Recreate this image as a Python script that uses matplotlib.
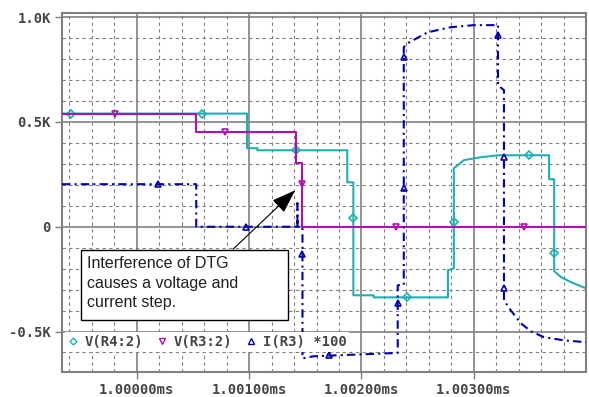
import matplotlib
matplotlib.use("Agg")
import matplotlib.pyplot as plt
from matplotlib.lines import Line2D
from matplotlib.patches import Rectangle
from matplotlib.ticker import MultipleLocator

# time in microseconds after 1 ms, values in kV (I(R3) scaled *100)
cyan_t = [-0.666, 0.981, 0.981, 1.073, 1.073, 1.874, 1.874, 1.928, 1.928, 2.109, 2.109,
          2.770, 2.770, 2.823, 2.823, 2.913, 3.064, 3.216, 3.671, 3.671, 3.716, 3.716,
          3.779, 3.868, 4.0]
cyan_v = [0.540, 0.540, 0.375, 0.375, 0.365, 0.365, 0.212, 0.212, -0.327, -0.327, -0.337,
          -0.337, -0.208, -0.198, 0.279, 0.318, 0.332, 0.341, 0.341, 0.227, 0.227, -0.212,
          -0.241, -0.265, -0.294]
cyan_mt = [-0.588, 0.582, 1.413, 1.928, 2.404, 2.823, 3.493, 3.716]
cyan_mv = [0.540, 0.540, 0.365, 0.041, -0.337, 0.021, 0.341, -0.126]

mag_t = [-0.666, 0.529, 0.529, 1.421, 1.421, 1.475, 1.475, 4.0]
mag_v = [0.540, 0.540, 0.451, 0.451, 0.303, 0.303, 0.0, 0.0]
mag_mt = [-0.195, 0.789, 1.475, 2.305, 3.448]
mag_mv = [0.540, 0.451, 0.203, 0.0, 0.0]

blue_t = [-0.666, 0.529, 0.529, 1.430, 1.430, 1.430, 1.475, 1.475, 1.573, 2.323, 2.323,
          2.377, 2.377, 2.413, 2.590, 2.796, 3.000, 3.216, 3.216, 3.269, 3.269, 3.330,
          3.420, 3.510, 3.625, 3.804, 4.0]
blue_v = [0.203, 0.203, 0.0, 0.0, 0.112, 0.0, 0.0, -0.628, -0.618, -0.602, -0.279,
          -0.279, 0.857, 0.876, 0.928, 0.952, 0.962, 0.962, 0.675, 0.652, -0.351, -0.399,
          -0.461, -0.499, -0.527, -0.542, -0.551]
blue_mt = [0.189, 0.975, 1.475, 1.707, 2.323, 2.377, 2.377, 3.216, 3.269, 3.269]
blue_mv = [0.203, 0.0, -0.131, -0.611, -0.365, 0.184, 0.809, 0.914, 0.332, -0.294]

series_names = ["V(R4:2)", "V(R3:2)", "I(R3) *100"]
x_ticks = [0, 1, 2, 3]
x_labels = ["1.00000ms", "1.00100ms", "1.00200ms", "1.00300ms"]
y_ticks = [-0.5, 0, 0.5, 1.0]
y_labels = ["-0.5K", "0", "0.5K", "1.0K"]

note = "Interference of DTG\ncauses a voltage and\ncurrent step."
arrow_tail = (0.857, -0.107)
arrow_tip = (1.41, 0.174)

CYAN = "#1fb0b0"
MAG = "#b010b0"
BLUE = "#0000b0"
GRAY = "#808080"
TXT = "#454545"

fig = plt.figure(figsize=(5.89, 3.97), dpi=100)
ax = fig.add_axes([0.1053, 0.063, 0.8897, 0.9043])

ax.plot(cyan_t, cyan_v, color=CYAN, lw=1.5, zorder=2)
ax.plot(cyan_mt, cyan_mv, ls="none", marker="D", ms=4, mfc="none", mec=CYAN, mew=1.2, zorder=2)
ax.plot(mag_t, mag_v, color=MAG, lw=1.5, zorder=3)
ax.plot(mag_mt, mag_mv, ls="none", marker="v", ms=5, mfc="none", mec=MAG, mew=1.2, zorder=3)
ax.plot(blue_t, blue_v, color=BLUE, lw=1.5, ls=(0, (4, 2, 1, 2)), zorder=4)
ax.plot(blue_mt, blue_mv, ls="none", marker="^", ms=5, mfc="none", mec=BLUE, mew=1.2, zorder=4)

ax.set_xlim(-0.666, 4.0)
ax.set_ylim(-0.693, 1.02)
ax.set_xticks(x_ticks)
ax.set_xticklabels(x_labels)
ax.set_yticks(y_ticks)
ax.set_yticklabels(y_labels)
ax.xaxis.set_minor_locator(MultipleLocator(0.2))
ax.yaxis.set_minor_locator(MultipleLocator(0.1))
ax.set_axisbelow(True)
ax.grid(which="major", color=GRAY, lw=1.2, ls="-")
ax.grid(which="minor", color=GRAY, lw=0.8, ls=(0, (3, 3)))
ax.tick_params(which="major", length=5, width=1, color=GRAY, pad=3,
               labelcolor=TXT, labelsize=10)
ax.tick_params(which="minor", length=0)
for lab in ax.get_xticklabels() + ax.get_yticklabels():
    lab.set_fontfamily("DejaVu Sans Mono")
    lab.set_fontweight("bold")
for sp in ax.spines.values():
    sp.set_color(GRAY)
    sp.set_linewidth(1.5)

handles = [
    Line2D([], [], ls="none", marker="D", ms=3.5, mfc="none", mec=CYAN, mew=1),
    Line2D([], [], ls="none", marker="v", ms=4.5, mfc="none", mec=MAG, mew=1),
    Line2D([], [], ls="none", marker="^", ms=4.5, mfc="none", mec=BLUE, mew=1),
]
leg = ax.legend(handles, series_names, loc="center left", bbox_to_anchor=(0.0, 0.0836),
                ncol=3, frameon=True, fancybox=False, facecolor="white", edgecolor="none",
                framealpha=1, handlelength=0.8, handletextpad=0.4, columnspacing=1.0,
                borderpad=0.2, borderaxespad=0.2,
                prop={"family": "DejaVu Sans Mono", "weight": "bold", "size": 10})
for t in leg.get_texts():
    t.set_color(TXT)
leg.set_zorder(10)

ax.add_patch(Rectangle((0.036, 0.145), 0.395, 0.195, transform=ax.transAxes,
                       facecolor="white", edgecolor="black", lw=1, zorder=8))
ax.text(0.048, 0.2475, note, transform=ax.transAxes, ha="left", va="center",
        fontfamily="Liberation Sans", fontsize=11.5, color="#202020",
        linespacing=1.38, zorder=9)
ax.annotate("", xy=arrow_tip, xytext=arrow_tail,
            arrowprops=dict(arrowstyle="-|>,head_length=1.0,head_width=0.35",
                            mutation_scale=15, color="black", lw=0.8,
                            shrinkA=0, shrinkB=0),
            zorder=9)

fig.savefig("out.png", dpi=100, facecolor="white")
